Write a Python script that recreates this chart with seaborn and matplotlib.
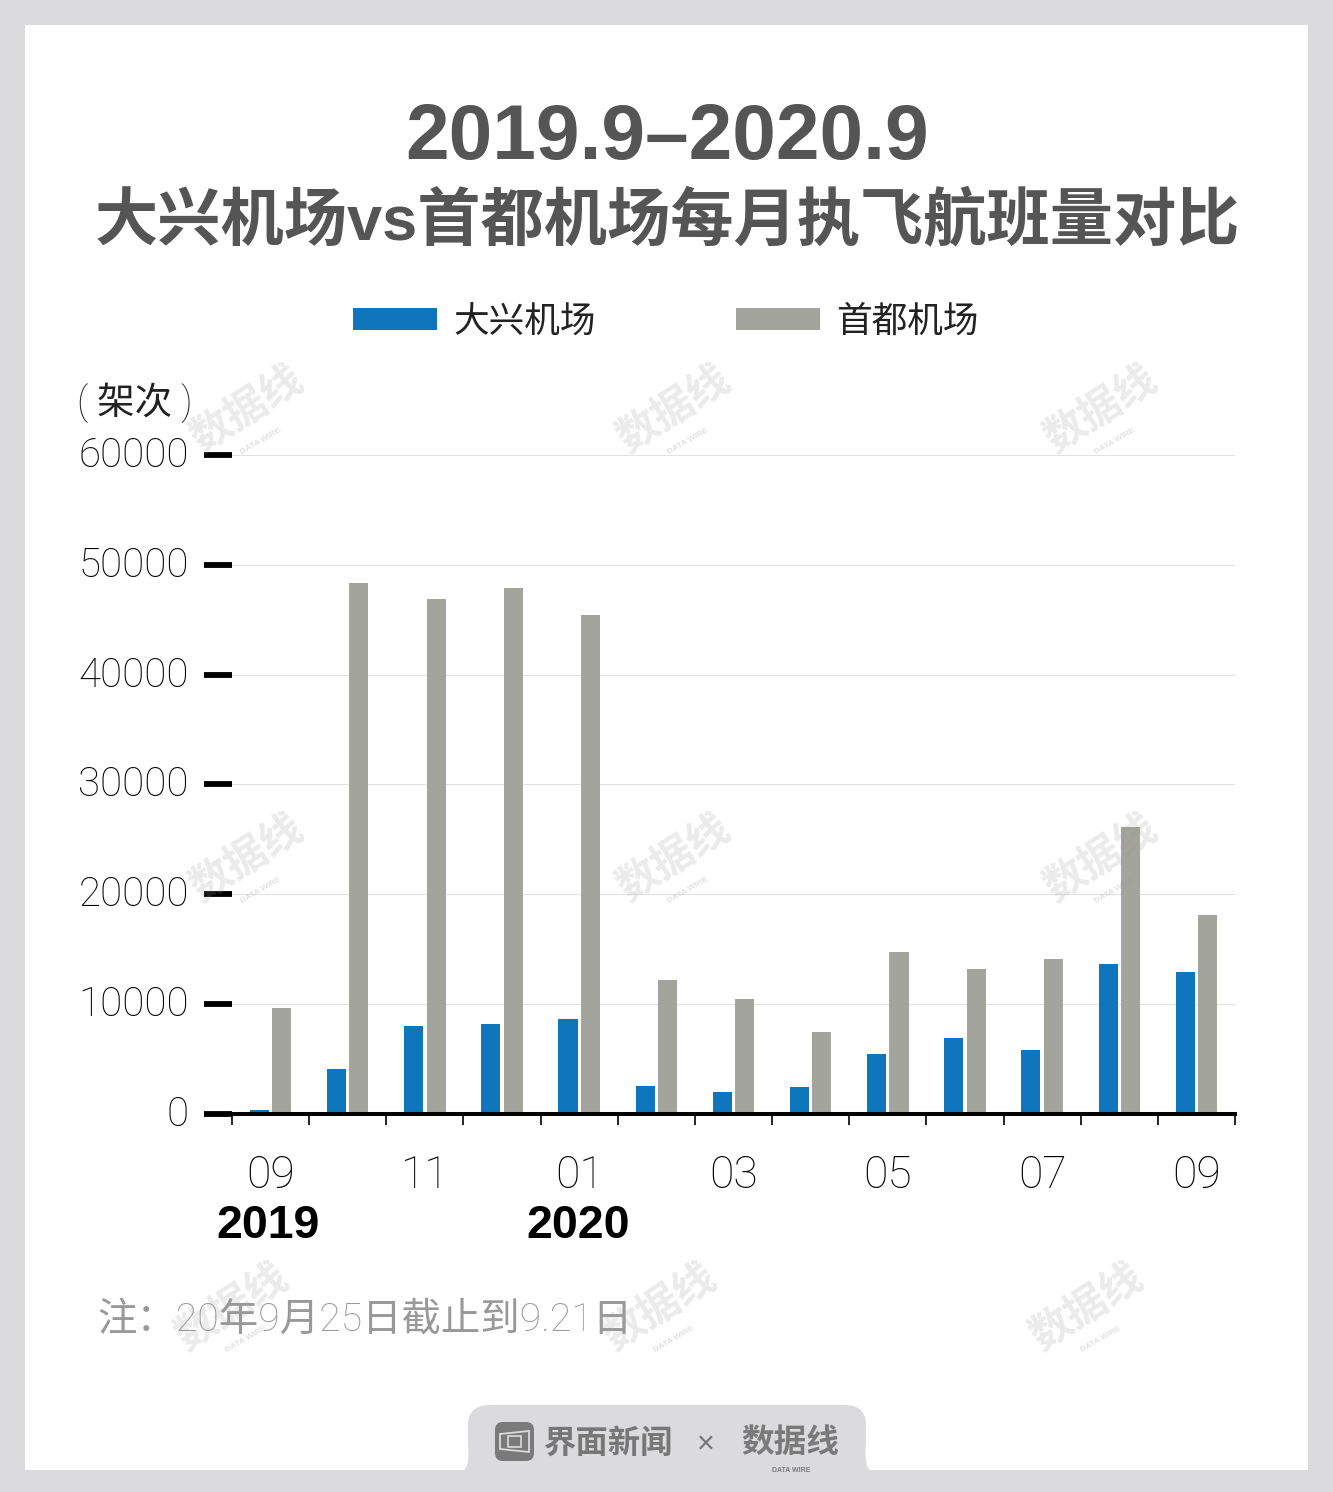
import numpy as np
import pandas as pd
import matplotlib
matplotlib.use("Agg")
import matplotlib.pyplot as plt
import seaborn as sns
from matplotlib.patches import Rectangle, FancyBboxPatch, Polygon, PathPatch
from matplotlib.path import Path
from matplotlib.transforms import Affine2D, ScaledTranslation

months = ["2019-09", "2019-10", "2019-11", "2019-12", "2020-01", "2020-02", "2020-03",
          "2020-04", "2020-05", "2020-06", "2020-07", "2020-08", "2020-09"]
daxing = [350, 4100, 8000, 8200, 8600, 2550, 1950, 2400, 5400, 6850, 5750, 13600, 12850]
capital = [9600, 48300, 46850, 47850, 45400, 12200, 10400, 7400, 14700, 13200, 14050, 26100, 18050]
y_ticks = [0, 10000, 20000, 30000, 40000, 50000, 60000]
month_labels = ["09", "", "11", "", "01", "", "03", "", "05", "", "07", "", "09"]

BG = "#DBDBDD"
BLUE = "#0F75BC"
GREY = "#A3A49B"
TITLE = "#555555"

sns.set_theme(style="white")
plt.rcParams["font.family"] = ["Liberation Sans", "Noto Sans CJK SC", "DejaVu Sans"]
LIGHT = ["Roboto", "Noto Sans CJK SC", "DejaVu Sans"]

df = pd.DataFrame({"month": months * 2,
                   "flights": daxing + capital,
                   "airport": ["大兴机场"] * 13 + ["首都机场"] * 13})

fig = plt.figure(figsize=(13.33, 14.92), dpi=100, facecolor=BG)
# pixel coordinates of the reference, origin top left
px = Affine2D().scale(1 / 1333, -1 / 1492).translate(0, 1) + fig.transFigure

fig.add_artist(Rectangle((25, 25), 1283, 1445, transform=px, fc="white", ec="none", zorder=-5))

ax = fig.add_axes([232 / 1333, 1 - 1113.5 / 1492, (1235 - 232) / 1333, (1113.5 - 455) / 1492])
ax.patch.set_alpha(0)
sns.barplot(data=df, x="month", y="flights", hue="airport", palette=[BLUE, GREY],
            width=0.58, gap=0.15, saturation=1, linewidth=0, ax=ax)

ax.set_xlim(-0.5, 12.5)
ax.set_ylim(0, 60000)
ax.set_xlabel("")
ax.set_ylabel("")
ax.set_axisbelow(True)
ax.grid(axis="y", color="#E2E2E2", linewidth=0.8)
for s in ["top", "right", "left"]:
    ax.spines[s].set_visible(False)
ax.spines["bottom"].set_color("black")
ax.spines["bottom"].set_linewidth(2.9)

ax.set_yticks(y_ticks)
ax.set_yticklabels([str(v) for v in y_ticks], fontsize=29, family=LIGHT, weight="light", color="black")
ax.tick_params(axis="y", length=20, width=4.2, color="black", pad=11, left=True)
for lbl in ax.get_yticklabels():
    lbl.set_transform(lbl.get_transform() + ScaledTranslation(0, 3 / 100, fig.dpi_scale_trans))

# month labels sit in the middle of each group, ticks on the group edges
ax.set_xticks(np.arange(-0.5, 13, 1))
ax.set_xticklabels([])
ax.tick_params(axis="x", which="major", length=8, width=1.2, color="black", bottom=True)
ax.set_xticks(np.arange(13), minor=True)
ax.set_xticklabels(month_labels, minor=True, fontsize=32, family=LIGHT, weight="light", color="black")
ax.tick_params(axis="x", which="minor", length=0, pad=29.5, bottom=False)

leg = ax.legend(loc="center", bbox_to_anchor=(666, 321.5), bbox_transform=px, ncol=2, frameon=False,
                handlelength=2.35, handleheight=0.6, handletextpad=0.45,
                columnspacing=3.95, borderpad=0, labelcolor="#222222",
                prop={"family": LIGHT, "weight": "light", "size": 25.7})

fig.text(667, 139, "2019.9–2020.9", transform=px, ha="center", va="center",
         fontsize=56.5, fontweight="bold", color=TITLE)
fig.text(667, 223, "大兴机场vs首都机场每月执飞航班量对比", transform=px, ha="center", va="center",
         fontsize=45.5, fontweight="bold", color=TITLE)
fig.text(135, 403, "( 架次 )", transform=px, ha="center", va="center", fontsize=27,
         family=LIGHT, weight="light", color="#222222")
fig.text(268, 1226, "2019", transform=px, ha="center", va="center", fontsize=33.5, fontweight="bold", color="black")
fig.text(578, 1226, "2020", transform=px, ha="center", va="center", fontsize=33.5, fontweight="bold", color="black")
fig.text(97, 1320, "注：20年9月25日截止到9.21日", transform=px, ha="left", va="center", fontsize=28.4,
         family=LIGHT, weight="light", color="#999999")

# watermarks
for wx, wy in [(247, 410), (674, 410), (1101, 410), (247, 859), (674, 859), (1101, 859),
               (232, 1308), (660, 1308), (1087, 1308)]:
    fig.text(wx, wy, "数据线", transform=px, ha="center", va="center", rotation=33, fontsize=30,
             fontweight="bold", color="#999999", alpha=0.2, rotation_mode="anchor", zorder=3)
    fig.text(wx + 14, wy + 31, "DATA WIRE", transform=px, ha="center", va="center", rotation=30,
             fontsize=6, fontweight="bold", color="#999999", alpha=0.3, rotation_mode="anchor", zorder=3)

# footer tab
verts = [(464, 1470), (470, 1466), (468, 1440), (468, 1425), (468, 1405), (490, 1405), (505, 1405),
         (845, 1405), (866, 1405), (866, 1425), (866, 1440), (864, 1466), (870, 1470), (464, 1470)]
codes = [Path.MOVETO, Path.CURVE3, Path.CURVE3, Path.LINETO, Path.CURVE3, Path.CURVE3, Path.LINETO,
         Path.LINETO, Path.CURVE3, Path.CURVE3, Path.LINETO, Path.CURVE3, Path.CURVE3, Path.CLOSEPOLY]
fig.add_artist(PathPatch(Path(verts, codes), transform=px, fc=BG, ec="none", zorder=2))
fig.add_artist(FancyBboxPatch((501, 1428), 27, 27, boxstyle="round,pad=6,rounding_size=8", transform=px,
                              fc="#7A7A7A", ec="none", zorder=3))
fig.add_artist(Polygon([(500, 1434), (529, 1431), (529, 1452), (500, 1449)],
                       closed=True, transform=px, fc="none", ec=BG, lw=1.3, zorder=4))
fig.add_artist(Rectangle((508, 1436), 13, 11, transform=px, fc="none", ec=BG, lw=1.2, zorder=4))
fig.text(608.5, 1444, "界面新闻", transform=px, ha="center", va="center", fontsize=23.3, fontweight="bold", color="#777777", zorder=4)
fig.text(706, 1445, "×", transform=px, ha="center", va="center", fontsize=22, color="#777777", zorder=4)
fig.text(790, 1443, "数据线", transform=px, ha="center", va="center", fontsize=23.5, fontweight="bold", color="#7A7A7A", zorder=4)
fig.text(791, 1470, "DATA WIRE", transform=px, ha="center", va="center", fontsize=5, fontweight="bold", color="#7A7A7A", zorder=4)

fig.savefig("out.png", dpi=100, facecolor=BG)
